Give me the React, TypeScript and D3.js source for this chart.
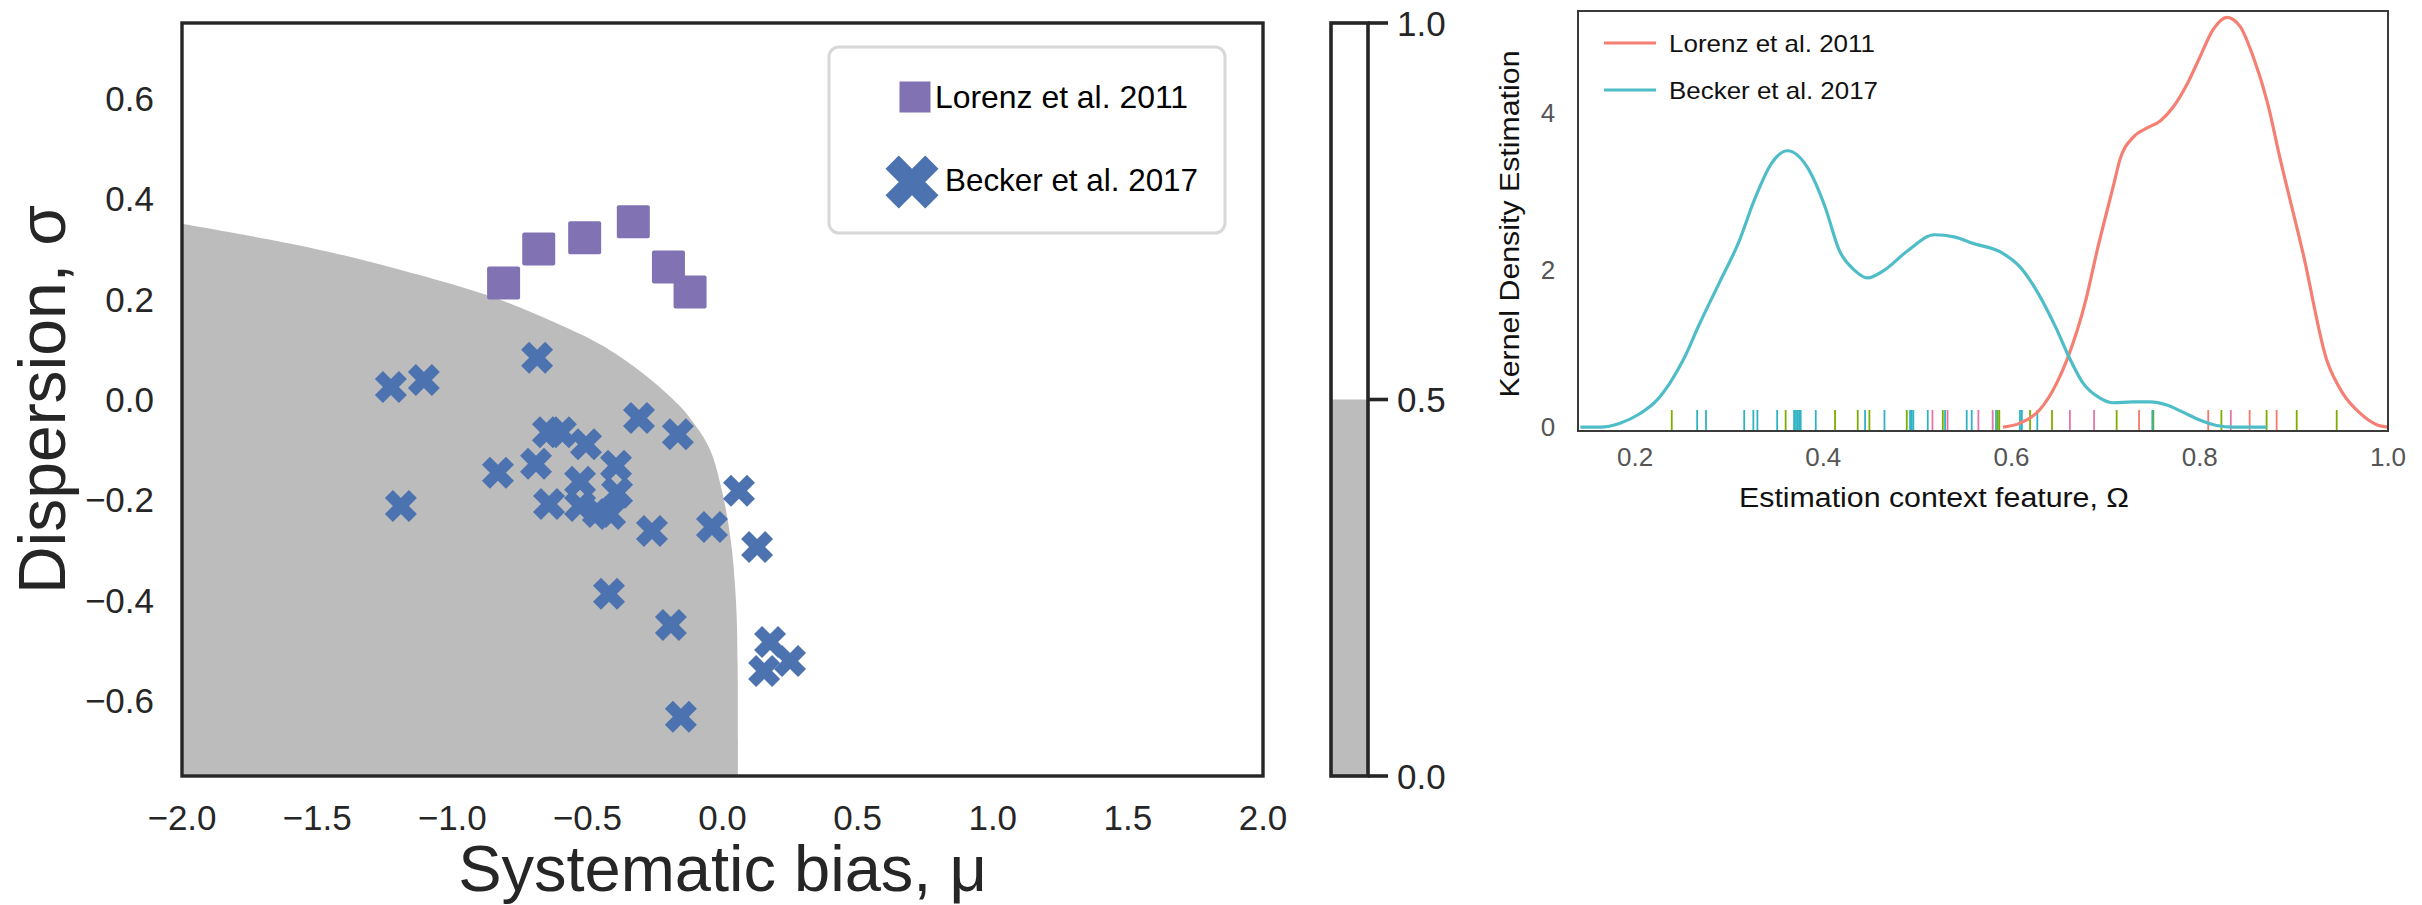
import React from 'react';
import * as d3 from 'd3';

// ---------------- Data ----------------
// Left panel: scatter of (systematic bias mu, dispersion sigma)
const lorenzMu = [-0.81, -0.68, -0.51, -0.33, -0.2, -0.12];
const lorenzSigma = [0.232, 0.3, 0.322, 0.354, 0.264, 0.214];

const beckerMu = [-1.227, -1.105, -1.19, -0.686, -0.831, -0.69, -0.646, -0.598, -0.505, -0.642, -0.309, -0.394, -0.527, -0.527, -0.461, -0.416, -0.39, -0.42, -0.165, -0.261, -0.039, 0.061, 0.128, -0.191, -0.154, 0.176, 0.154, 0.25];
const beckerSigma = [0.025, 0.039, -0.212, 0.083, -0.146, -0.128, -0.065, -0.065, -0.089, -0.208, -0.037, -0.132, -0.164, -0.212, -0.224, -0.228, -0.186, -0.387, -0.069, -0.262, -0.254, -0.182, -0.294, -0.449, -0.632, -0.483, -0.541, -0.521];

// Boundary of the shaded (probability < 0.5) region
const boundaryMu = [-2.0, -1.53, -1.19, -0.85, -0.61, -0.44, -0.28, -0.16, -0.1, -0.046, -0.002, 0.031, 0.05, 0.056, 0.057];
const boundarySigma = [0.35, 0.303, 0.258, 0.204, 0.151, 0.106, 0.046, -0.012, -0.052, -0.1, -0.182, -0.282, -0.403, -0.53, -0.75];

const mainXTicks = [-2.0, -1.5, -1.0, -0.5, 0.0, 0.5, 1.0, 1.5, 2.0];
const mainYTicks = [0.6, 0.4, 0.2, 0.0, -0.2, -0.4, -0.6];
const colorbarTicks = [0.0, 0.5, 1.0];

// Right panel: kernel density estimates
const lorenzOmega = [0.591, 0.609, 0.63, 0.648, 0.659, 0.679, 0.691, 0.709, 0.715, 0.729, 0.744, 0.758, 0.772, 0.787, 0.8, 0.814, 0.829, 0.843, 0.857, 0.872, 0.885, 0.91, 0.935, 0.952, 0.97, 0.988, 1.0];
const lorenzDensity = [0, 0.05, 0.22, 0.56, 0.86, 1.62, 2.25, 3.11, 3.4, 3.69, 3.81, 3.9, 4.08, 4.38, 4.71, 5.06, 5.22, 5.1, 4.71, 4.13, 3.44, 2.2, 0.85, 0.43, 0.18, 0.03, 0];

const beckerOmega = [0.142, 0.163, 0.184, 0.205, 0.223, 0.237, 0.251, 0.268, 0.29, 0.31, 0.327, 0.345, 0.362, 0.383, 0.402, 0.417, 0.433, 0.447, 0.465, 0.49, 0.518, 0.54, 0.559, 0.59, 0.609, 0.628, 0.647, 0.662, 0.676, 0.694, 0.708, 0.729, 0.747, 0.765, 0.782, 0.8, 0.818, 0.836, 0.871];
const beckerDensity = [0, 0, 0.05, 0.17, 0.34, 0.56, 0.85, 1.3, 1.85, 2.35, 2.9, 3.36, 3.52, 3.31, 2.8, 2.25, 2.0, 1.9, 2.0, 2.25, 2.45, 2.42, 2.34, 2.22, 2.04, 1.71, 1.27, 0.87, 0.56, 0.37, 0.31, 0.32, 0.32, 0.28, 0.19, 0.09, 0.02, 0.0, 0.0];

const rugGreen = [0.239, 0.36, 0.4125, 0.4366, 0.449, 0.4887, 0.527, 0.5853, 0.587, 0.6197, 0.643, 0.7117, 0.7507, 0.823, 0.871, 0.903, 0.9455];
const rugCyan = [0.266, 0.2754, 0.316, 0.3257, 0.33, 0.351, 0.369, 0.371, 0.373, 0.3746, 0.376, 0.392, 0.4444, 0.465, 0.4922, 0.494, 0.4957, 0.511, 0.5294, 0.5524, 0.5577, 0.5835, 0.609, 0.611, 0.6274, 0.7496];
const rugPink = [0.516, 0.532, 0.5648, 0.58, 0.662, 0.6877, 0.833];
const rugRed = [0.7355, 0.809, 0.853, 0.8817];

const kdeXTicks = [0.2, 0.4, 0.6, 0.8, 1.0];
const kdeYTicks = [0, 2, 4];

// ---------------- Layout / style ----------------
const W = 2422;
const H = 905;
const FONT = "'Liberation Sans', Arial, Helvetica, sans-serif";
const DARK = '#262626';
const GRAY_FILL = '#bcbcbc';
const PURPLE = '#8172b3';
const BLUE = '#4c72b0';
const RED = '#f47f72';
const CYAN = '#4fbdc7';

const M = { left: 182, right: 1263, top: 23, bottom: 776 };
const CB = { left: 1331, right: 1368, top: 23, bottom: 776 };
const K = { left: 1578, right: 2388, top: 11, bottom: 431 };

const xMain = d3.scaleLinear().domain([-2, 2]).range([M.left, M.right]);
const yMain = d3.scaleLinear().domain([-0.75, 0.75]).range([M.bottom, M.top]);
const yCb = d3.scaleLinear().domain([0, 1]).range([CB.bottom, CB.top]);
const xK = d3.scaleLinear().domain([0.1394, 1.0]).range([K.left, K.right]);
const yK = d3.scaleLinear().domain([-0.05, 5.3]).range([K.bottom, K.top]);

const fmt1 = d3.format('.1f');

// matplotlib filled 'X' marker outline (unit shape)
const X_VERTS: [number, number][] = [
  [-1, -2], [0, -1], [1, -2], [2, -1], [1, 0], [2, 1],
  [1, 2], [0, 1], [-1, 2], [-2, 1], [-1, 0], [-2, -1],
];
function xMarker(cx: number, cy: number, half: number): string {
  const k = half / 2;
  return 'M' + X_VERTS.map(([a, b]) => `${(cx + a * k).toFixed(2)},${(cy + b * k).toFixed(2)}`).join('L') + 'Z';
}

export default function App() {
  const boundaryPts = boundaryMu.map((m, i) => [xMain(m), yMain(boundarySigma[i])] as [number, number]);
  const boundaryLine = d3.line().curve(d3.curveCatmullRom.alpha(0.5))(boundaryPts) as string;
  const grayPath = `${boundaryLine}L${xMain(-2)},${yMain(-0.75)}Z`;

  const kdeLine = d3
    .line<[number, number]>()
    .x((d) => xK(d[0]))
    .y((d) => yK(d[1]))
    .curve(d3.curveMonotoneX);
  const lorenzPath = kdeLine(lorenzOmega.map((o, i) => [o, lorenzDensity[i]] as [number, number])) as string;
  const beckerPath = kdeLine(beckerOmega.map((o, i) => [o, beckerDensity[i]] as [number, number])) as string;

  const rugGroups: { vals: number[]; color: string }[] = [
    { vals: rugGreen, color: '#7cae00' },
    { vals: rugCyan, color: '#2fb3c4' },
    { vals: rugPink, color: '#e575a6' },
    { vals: rugRed, color: '#f8766d' },
  ];

  return (
    <svg
      width={W}
      height={H}
      viewBox={`0 0 ${W} ${H}`}
      style={{ position: 'absolute', left: 0, top: 0, background: '#fff' }}
      fontFamily={FONT}
    >
      <defs>
        <clipPath id="mainClip">
          <rect x={M.left} y={M.top} width={M.right - M.left} height={M.bottom - M.top} />
        </clipPath>
        <clipPath id="kdeClip">
          <rect x={K.left} y={K.top - 4} width={K.right - K.left + 2} height={K.bottom - K.top + 4} />
        </clipPath>
      </defs>
      <rect x={0} y={0} width={W} height={H} fill="#fff" />

      {/* ---------- Main scatter panel ---------- */}
      <g clipPath="url(#mainClip)">
        <path d={grayPath} fill={GRAY_FILL} />
        {lorenzMu.map((m, i) => (
          <rect
            key={'l' + i}
            x={xMain(m) - 16.5}
            y={yMain(lorenzSigma[i]) - 16.5}
            width={33}
            height={33}
            rx={2}
            fill={PURPLE}
          />
        ))}
        {beckerMu.map((m, i) => (
          <path key={'b' + i} d={xMarker(xMain(m), yMain(beckerSigma[i]), 16)} fill={BLUE} />
        ))}
      </g>
      <rect
        x={M.left}
        y={M.top}
        width={M.right - M.left}
        height={M.bottom - M.top}
        fill="none"
        stroke={DARK}
        strokeWidth={3.4}
      />
      {mainYTicks.map((v) => (
        <text key={'yt' + v} x={154} y={yMain(v)} textAnchor="end" dominantBaseline="central" fontSize={35} fill={DARK}>
          {fmt1(v)}
        </text>
      ))}
      {mainXTicks.map((v) => (
        <text key={'xt' + v} x={xMain(v)} y={817} textAnchor="middle" dominantBaseline="central" fontSize={35} fill={DARK}>
          {fmt1(v)}
        </text>
      ))}
      <text x={(M.left + M.right) / 2} y={891} textAnchor="middle" fontSize={65} fill={DARK}>
        Systematic bias, μ
      </text>
      <text
        transform={`translate(65,${(M.top + M.bottom) / 2}) rotate(-90)`}
        textAnchor="middle"
        fontSize={66}
        fill={DARK}
      >
        Dispersion, σ
      </text>

      {/* legend */}
      <rect x={829} y={47} width={396} height={186} rx={10} fill="#fff" fillOpacity={0.9} stroke="#d8d8d8" strokeWidth={3} />
      <rect x={915 - 15.5} y={97 - 15.5} width={31} height={31} fill={PURPLE} />
      <text x={935} y={97} dominantBaseline="central" fontSize={32} fill="#000" textLength={253} lengthAdjust="spacingAndGlyphs">
        Lorenz et al. 2011
      </text>
      <path d={xMarker(912, 182, 26.5)} fill={BLUE} />
      <text x={945} y={180} dominantBaseline="central" fontSize={32} fill="#000" textLength={253} lengthAdjust="spacingAndGlyphs">
        Becker et al. 2017
      </text>

      {/* ---------- Colorbar ---------- */}
      <rect x={CB.left} y={yCb(1)} width={CB.right - CB.left} height={yCb(0.5) - yCb(1)} fill="#fff" />
      <rect x={CB.left} y={yCb(0.5)} width={CB.right - CB.left} height={yCb(0) - yCb(0.5)} fill={GRAY_FILL} />
      <rect
        x={CB.left}
        y={CB.top}
        width={CB.right - CB.left}
        height={CB.bottom - CB.top}
        fill="none"
        stroke={DARK}
        strokeWidth={3.6}
      />
      {colorbarTicks.map((v) => (
        <g key={'cb' + v}>
          <line x1={CB.right} x2={CB.right + 20} y1={yCb(v)} y2={yCb(v)} stroke={DARK} strokeWidth={3.6} />
          <text x={1397} y={yCb(v)} dominantBaseline="central" fontSize={35} fill={DARK}>
            {fmt1(v)}
          </text>
        </g>
      ))}

      {/* ---------- KDE panel ---------- */}
      <g clipPath="url(#kdeClip)">
        {rugGroups.map((g, gi) =>
          g.vals.map((v, i) => (
            <line
              key={'r' + gi + '_' + i}
              x1={xK(v)}
              x2={xK(v)}
              y1={K.bottom}
              y2={K.bottom - 21}
              stroke={g.color}
              strokeWidth={1.8}
            />
          ))
        )}
        <path d={lorenzPath} fill="none" stroke={RED} strokeWidth={3.2} />
        <path d={beckerPath} fill="none" stroke={CYAN} strokeWidth={3.2} />
      </g>
      <rect
        x={K.left}
        y={K.top}
        width={K.right - K.left}
        height={K.bottom - K.top}
        fill="none"
        stroke="#3a3a3a"
        strokeWidth={2}
      />
      {kdeYTicks.map((v) => (
        <text key={'ky' + v} x={1548} y={yK(v)} textAnchor="middle" dominantBaseline="central" fontSize={26} fill="#555">
          {v}
        </text>
      ))}
      {kdeXTicks.map((v) => (
        <text
          key={'kx' + v}
          x={xK(v)}
          y={457}
          textAnchor="middle"
          dominantBaseline="central"
          fontSize={26}
          fill="#555"
        >
          {fmt1(v)}
        </text>
      ))}
      <text x={1739} y={507} fontSize={27} fill="#111" textLength={390} lengthAdjust="spacingAndGlyphs">
        Estimation context feature, Ω
      </text>
      <text
        transform={`translate(1519,${(K.top + K.bottom) / 2 + 3}) rotate(-90)`}
        textAnchor="middle"
        fontSize={27}
        fill="#111"
        textLength={347}
        lengthAdjust="spacingAndGlyphs"
      >
        Kernel Density Estimation
      </text>
      {/* KDE legend */}
      <line x1={1604} x2={1656} y1={43} y2={43} stroke={RED} strokeWidth={3} />
      <text x={1669} y={43} dominantBaseline="central" fontSize={24} fill="#111" textLength={206} lengthAdjust="spacingAndGlyphs">
        Lorenz et al. 2011
      </text>
      <line x1={1604} x2={1656} y1={90} y2={90} stroke={CYAN} strokeWidth={3} />
      <text x={1669} y={90} dominantBaseline="central" fontSize={24} fill="#111" textLength={209} lengthAdjust="spacingAndGlyphs">
        Becker et al. 2017
      </text>
    </svg>
  );
}
